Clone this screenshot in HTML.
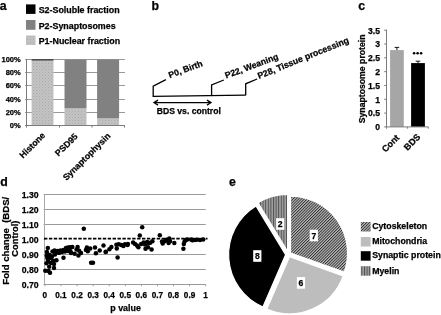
<!DOCTYPE html>
<html><head><meta charset="utf-8"><style>
html,body{margin:0;padding:0;background:#fff;width:441px;height:315px;overflow:hidden}
svg{display:block;filter:grayscale(1)}
text{font-family:"Liberation Sans",sans-serif;font-weight:bold;fill:#000;stroke:#000;stroke-width:0.25px}
</style></head><body>
<svg width="441" height="315" viewBox="0 0 441 315"><defs>
<pattern id="dots" width="3" height="3" patternUnits="userSpaceOnUse">
<rect width="3" height="3" fill="#c3c3c3"/><rect width="1" height="1" fill="#aaaaaa"/><rect x="1.5" y="1.5" width="1" height="1" fill="#b6b6b6"/></pattern>
<pattern id="hatch" width="2.02" height="2.02" patternUnits="userSpaceOnUse" patternTransform="rotate(45)">
<rect width="2.02" height="2.02" fill="#bcbcbc"/><rect width="0.9" height="2.02" fill="#2e2e2e"/></pattern>
<pattern id="vstripe" width="2.6" height="3" patternUnits="userSpaceOnUse">
<rect width="2.6" height="3" fill="#a0a0a0"/><rect width="1.0" height="3" fill="#505050"/></pattern>
</defs>
<text x="-0.2" y="9.8" font-size="12.3" text-anchor="start" >a</text>
<rect x="26" y="4.4" width="9.5" height="9.5" fill="#000"/>
<rect x="26" y="20" width="9.5" height="9.8" fill="#818181"/>
<rect x="26" y="35.5" width="9.5" height="9.5" fill="url(#dots)"/>
<text x="38.7" y="12.6" font-size="8.9" text-anchor="start" >S2-Soluble fraction</text>
<text x="38.7" y="28.6" font-size="8.9" text-anchor="start" >P2-Synaptosomes</text>
<text x="38.7" y="44.2" font-size="8.9" text-anchor="start" >P1-Nuclear fraction</text>
<line x1="25" y1="112.5" x2="125" y2="112.5" stroke="#9a9a9a" stroke-width="1" />
<line x1="25" y1="99.5" x2="125" y2="99.5" stroke="#9a9a9a" stroke-width="1" />
<line x1="25" y1="85.5" x2="125" y2="85.5" stroke="#9a9a9a" stroke-width="1" />
<line x1="25" y1="72.5" x2="125" y2="72.5" stroke="#9a9a9a" stroke-width="1" />
<line x1="25" y1="59.5" x2="125" y2="59.5" stroke="#9a9a9a" stroke-width="1" />
<text x="20.7" y="128.0" font-size="7.5" text-anchor="end" >0%</text>
<text x="20.7" y="115.0" font-size="7.5" text-anchor="end" >20%</text>
<text x="20.7" y="102.0" font-size="7.5" text-anchor="end" >40%</text>
<text x="20.7" y="88.0" font-size="7.5" text-anchor="end" >60%</text>
<text x="20.7" y="75.0" font-size="7.5" text-anchor="end" >80%</text>
<text x="20.7" y="62.0" font-size="7.5" text-anchor="end" >100%</text>
<rect x="31.6" y="60.4212" width="21.9" height="64.8788" fill="url(#dots)"/>
<rect x="31.6" y="59.5" width="21.9" height="0.9211999999999989" fill="#000"/>
<rect x="64.5" y="108.2578" width="22" height="17.042199999999994" fill="url(#dots)"/>
<rect x="64.5" y="59.5" width="22" height="48.7578" fill="#818181"/>
<rect x="97.1" y="118.39099999999999" width="22" height="6.909000000000006" fill="url(#dots)"/>
<rect x="97.1" y="59.5" width="22" height="58.89099999999999" fill="#818181"/>
<line x1="26.5" y1="59" x2="26.5" y2="125.5" stroke="#7c7c7c" stroke-width="1" />
<line x1="25" y1="125.5" x2="125" y2="125.5" stroke="#7c7c7c" stroke-width="1" />
<line x1="26.5" y1="125.5" x2="26.5" y2="127.6" stroke="#7c7c7c" stroke-width="1" />
<line x1="59.5" y1="125.5" x2="59.5" y2="127.6" stroke="#7c7c7c" stroke-width="1" />
<line x1="92" y1="125.5" x2="92" y2="127.6" stroke="#7c7c7c" stroke-width="1" />
<line x1="124.5" y1="125.5" x2="124.5" y2="127.6" stroke="#7c7c7c" stroke-width="1" />
<text x="0" y="0" font-size="8.8" text-anchor="end"  transform="translate(45.8,136) rotate(-45)">Histone</text>
<text x="0" y="0" font-size="8.8" text-anchor="end"  transform="translate(78.3,137) rotate(-45)">PSD95</text>
<text x="0" y="0" font-size="8.8" text-anchor="end"  transform="translate(111,136.5) rotate(-45)">Synaptophysin</text>
<text x="151.5" y="9.5" font-size="12.3" text-anchor="start" >b</text>
<g stroke="#000" stroke-width="1.3" fill="none">
<polyline points="165.9,79.6 153.2,86.2 153.2,96.3 245.7,95.2"/>
<polyline points="223.8,80 211.6,85 211.6,95.6"/>
<polyline points="257.1,79 245.7,83.8 245.7,95.2"/>
<line x1="155" y1="102.6" x2="210" y2="102.6"/>
<polyline points="158,100.1 154,102.6 158,105.1"/>
<polyline points="207,100.1 211,102.6 207,105.1"/>
</g>
<text x="156.8" y="113.5" font-size="8.6" text-anchor="start" >BDS vs. control</text>
<text x="0" y="0" font-size="8.7" text-anchor="start"  transform="translate(169.8,78.2) rotate(-20.3)">P0, Birth</text>
<text x="0" y="0" font-size="8.7" text-anchor="start"  transform="translate(226.2,78.6) rotate(-20.5)">P22, Weaning</text>
<text x="0" y="0" font-size="8.8" text-anchor="start"  transform="translate(258.9,79.1) rotate(-22)">P28, Tissue processing</text>
<text x="358.2" y="9.6" font-size="12.3" text-anchor="start" >c</text>
<line x1="386.5" y1="29.7" x2="386.5" y2="126.9" stroke="#7c7c7c" stroke-width="1" />
<line x1="384.2" y1="126.9" x2="386.5" y2="126.9" stroke="#7c7c7c" stroke-width="1" />
<text x="380" y="130.20000000000002" font-size="8.6" text-anchor="end" >0</text>
<line x1="384.2" y1="113.08571428571429" x2="386.5" y2="113.08571428571429" stroke="#7c7c7c" stroke-width="1" />
<text x="380" y="116.38571428571429" font-size="8.6" text-anchor="end" >0.5</text>
<line x1="384.2" y1="99.27142857142857" x2="386.5" y2="99.27142857142857" stroke="#7c7c7c" stroke-width="1" />
<text x="380" y="102.57142857142857" font-size="8.6" text-anchor="end" >1</text>
<line x1="384.2" y1="85.45714285714286" x2="386.5" y2="85.45714285714286" stroke="#7c7c7c" stroke-width="1" />
<text x="380" y="88.75714285714285" font-size="8.6" text-anchor="end" >1.5</text>
<line x1="384.2" y1="71.64285714285714" x2="386.5" y2="71.64285714285714" stroke="#7c7c7c" stroke-width="1" />
<text x="380" y="74.94285714285714" font-size="8.6" text-anchor="end" >2</text>
<line x1="384.2" y1="57.828571428571436" x2="386.5" y2="57.828571428571436" stroke="#7c7c7c" stroke-width="1" />
<text x="380" y="61.12857142857143" font-size="8.6" text-anchor="end" >2.5</text>
<line x1="384.2" y1="44.01428571428572" x2="386.5" y2="44.01428571428572" stroke="#7c7c7c" stroke-width="1" />
<text x="380" y="47.31428571428572" font-size="8.6" text-anchor="end" >3</text>
<line x1="384.2" y1="30.200000000000003" x2="386.5" y2="30.200000000000003" stroke="#7c7c7c" stroke-width="1" />
<text x="380" y="33.5" font-size="8.6" text-anchor="end" >3.5</text>
<rect x="390.1" y="50.092571428571446" width="13.7" height="76.80742857142856" fill="#a6a6a6"/>
<rect x="411.1" y="63.078" width="13.8" height="63.822" fill="#000"/>
<line x1="396.9" y1="47.4" x2="396.9" y2="50.092571428571446" stroke="#000" stroke-width="0.9" />
<line x1="394.6" y1="47.4" x2="399.2" y2="47.4" stroke="#000" stroke-width="0.9" />
<line x1="418" y1="61.2" x2="418" y2="63.078" stroke="#000" stroke-width="0.9" />
<line x1="415.7" y1="61.2" x2="420.3" y2="61.2" stroke="#000" stroke-width="0.9" />
<circle cx="414.1" cy="53.3" r="1.3" fill="#000"/>
<circle cx="417.6" cy="53.3" r="1.3" fill="#000"/>
<circle cx="421.1" cy="53.3" r="1.3" fill="#000"/>
<line x1="386.5" y1="126.9" x2="428.3" y2="126.9" stroke="#7c7c7c" stroke-width="1" />
<line x1="386.5" y1="126.9" x2="386.5" y2="128.70000000000002" stroke="#7c7c7c" stroke-width="1" />
<line x1="407.4" y1="126.9" x2="407.4" y2="128.70000000000002" stroke="#7c7c7c" stroke-width="1" />
<line x1="428.3" y1="126.9" x2="428.3" y2="128.70000000000002" stroke="#7c7c7c" stroke-width="1" />
<text x="0" y="0" font-size="9" text-anchor="end"  transform="translate(400,138.3) rotate(-45)">Cont</text>
<text x="0" y="0" font-size="9" text-anchor="end"  transform="translate(421,137.5) rotate(-45)">BDS</text>
<text x="0" y="0" font-size="8.7" text-anchor="middle"  transform="translate(365,78.9) rotate(-90)">Synaptosome protein</text>
<text x="0.2" y="185.7" font-size="12.3" text-anchor="start" >d</text>
<text x="38.6" y="287.79999999999995" font-size="8.7" text-anchor="end" >0.70</text>
<line x1="43.6" y1="269.5" x2="205.7" y2="269.5" stroke="#9a9a9a" stroke-width="1" />
<text x="38.6" y="272.79999999999995" font-size="8.7" text-anchor="end" >0.80</text>
<line x1="43.6" y1="254.5" x2="205.7" y2="254.5" stroke="#9a9a9a" stroke-width="1" />
<text x="38.6" y="257.8" font-size="8.7" text-anchor="end" >0.90</text>
<text x="38.6" y="242.79999999999998" font-size="8.7" text-anchor="end" >1.00</text>
<line x1="43.6" y1="224.5" x2="205.7" y2="224.5" stroke="#9a9a9a" stroke-width="1" />
<text x="38.6" y="227.79999999999998" font-size="8.7" text-anchor="end" >1.10</text>
<line x1="43.6" y1="209.5" x2="205.7" y2="209.5" stroke="#9a9a9a" stroke-width="1" />
<text x="38.6" y="212.79999999999998" font-size="8.7" text-anchor="end" >1.20</text>
<line x1="43.6" y1="194.5" x2="205.7" y2="194.5" stroke="#9a9a9a" stroke-width="1" />
<text x="38.6" y="197.79999999999998" font-size="8.7" text-anchor="end" >1.30</text>
<line x1="43.6" y1="239.39999999999998" x2="45.5" y2="239.39999999999998" stroke="#9a9a9a" stroke-width="1" />
<line x1="44.5" y1="194.4" x2="44.5" y2="284.9" stroke="#a8a8a8" stroke-width="1" />
<line x1="43.6" y1="284.5" x2="205.7" y2="284.5" stroke="#9a9a9a" stroke-width="1" />
<line x1="45.0" y1="284.4" x2="45.0" y2="286.2" stroke="#9a9a9a" stroke-width="1" />
<text x="44.9" y="297.8" font-size="8.2" text-anchor="middle" >0</text>
<line x1="61.07" y1="284.4" x2="61.07" y2="286.2" stroke="#9a9a9a" stroke-width="1" />
<text x="60.97" y="297.8" font-size="8.2" text-anchor="middle" >0.1</text>
<line x1="77.14" y1="284.4" x2="77.14" y2="286.2" stroke="#9a9a9a" stroke-width="1" />
<text x="77.04" y="297.8" font-size="8.2" text-anchor="middle" >0.2</text>
<line x1="93.21" y1="284.4" x2="93.21" y2="286.2" stroke="#9a9a9a" stroke-width="1" />
<text x="93.11" y="297.8" font-size="8.2" text-anchor="middle" >0.3</text>
<line x1="109.28" y1="284.4" x2="109.28" y2="286.2" stroke="#9a9a9a" stroke-width="1" />
<text x="109.18" y="297.8" font-size="8.2" text-anchor="middle" >0.4</text>
<line x1="125.35" y1="284.4" x2="125.35" y2="286.2" stroke="#9a9a9a" stroke-width="1" />
<text x="125.25" y="297.8" font-size="8.2" text-anchor="middle" >0.5</text>
<line x1="141.42" y1="284.4" x2="141.42" y2="286.2" stroke="#9a9a9a" stroke-width="1" />
<text x="141.32" y="297.8" font-size="8.2" text-anchor="middle" >0.6</text>
<line x1="157.48999999999998" y1="284.4" x2="157.48999999999998" y2="286.2" stroke="#9a9a9a" stroke-width="1" />
<text x="157.39" y="297.8" font-size="8.2" text-anchor="middle" >0.7</text>
<line x1="173.56" y1="284.4" x2="173.56" y2="286.2" stroke="#9a9a9a" stroke-width="1" />
<text x="173.46" y="297.8" font-size="8.2" text-anchor="middle" >0.8</text>
<line x1="189.63" y1="284.4" x2="189.63" y2="286.2" stroke="#9a9a9a" stroke-width="1" />
<text x="189.53" y="297.8" font-size="8.2" text-anchor="middle" >0.9</text>
<line x1="205.7" y1="284.4" x2="205.7" y2="286.2" stroke="#9a9a9a" stroke-width="1" />
<text x="205.6" y="297.8" font-size="8.2" text-anchor="middle" >1</text>
<line x1="44" y1="238.6" x2="207.5" y2="238.6" stroke="#000" stroke-width="1.7" stroke-dasharray="3.4,1.5"/>
<text x="125.6" y="310.7" font-size="8.9" text-anchor="middle" >p value</text>
<text x="0" y="0" font-size="9.6" text-anchor="middle" xml:space="preserve" transform="translate(8.5,240.7) rotate(-90)">Fold change  (BDS/</text>
<text x="0" y="0" font-size="9.3" text-anchor="middle"  transform="translate(17.8,238.6) rotate(-90)">Control)</text>
<circle cx="83.8" cy="228.8" r="2.25" fill="#000"/>
<circle cx="47.8" cy="248" r="2.25" fill="#000"/>
<circle cx="46.9" cy="252" r="2.25" fill="#000"/>
<circle cx="47.3" cy="258" r="2.25" fill="#000"/>
<circle cx="50.8" cy="258" r="2.25" fill="#000"/>
<circle cx="56.4" cy="260.2" r="2.25" fill="#000"/>
<circle cx="46.5" cy="263.2" r="2.25" fill="#000"/>
<circle cx="54" cy="264" r="2.25" fill="#000"/>
<circle cx="54" cy="268" r="2.25" fill="#000"/>
<circle cx="49.2" cy="266.8" r="2.25" fill="#000"/>
<circle cx="45.3" cy="270.8" r="2.25" fill="#000"/>
<circle cx="48.4" cy="271.1" r="2.25" fill="#000"/>
<circle cx="50" cy="272.7" r="2.25" fill="#000"/>
<circle cx="53.2" cy="260.8" r="2.25" fill="#000"/>
<circle cx="63.5" cy="257.7" r="2.25" fill="#000"/>
<circle cx="46.8" cy="255.5" r="2.25" fill="#000"/>
<circle cx="49.5" cy="255" r="2.25" fill="#000"/>
<circle cx="52" cy="256.5" r="2.25" fill="#000"/>
<circle cx="48" cy="261" r="2.25" fill="#000"/>
<circle cx="51" cy="263" r="2.25" fill="#000"/>
<circle cx="52.5" cy="251.5" r="2.25" fill="#000"/>
<circle cx="54.5" cy="250.5" r="2.25" fill="#000"/>
<circle cx="55" cy="254.5" r="2.25" fill="#000"/>
<circle cx="59" cy="252.8" r="2.25" fill="#000"/>
<circle cx="68" cy="247.5" r="2.25" fill="#000"/>
<circle cx="70" cy="247.2" r="2.25" fill="#000"/>
<circle cx="66" cy="248" r="2.25" fill="#000"/>
<circle cx="55.5" cy="252.5" r="2.25" fill="#000"/>
<circle cx="57.5" cy="251" r="2.25" fill="#000"/>
<circle cx="59" cy="252.5" r="2.25" fill="#000"/>
<circle cx="60.5" cy="250.5" r="2.25" fill="#000"/>
<circle cx="62" cy="252" r="2.25" fill="#000"/>
<circle cx="63.5" cy="250" r="2.25" fill="#000"/>
<circle cx="65" cy="251.5" r="2.25" fill="#000"/>
<circle cx="66.5" cy="249.5" r="2.25" fill="#000"/>
<circle cx="68" cy="251" r="2.25" fill="#000"/>
<circle cx="69.5" cy="249.5" r="2.25" fill="#000"/>
<circle cx="70.5" cy="251.5" r="2.25" fill="#000"/>
<circle cx="72.3" cy="247" r="2.25" fill="#000"/>
<circle cx="71" cy="253" r="2.25" fill="#000"/>
<circle cx="77.6" cy="247" r="2.25" fill="#000"/>
<circle cx="79.1" cy="250.8" r="2.25" fill="#000"/>
<circle cx="81" cy="253" r="2.25" fill="#000"/>
<circle cx="74.6" cy="253.8" r="2.25" fill="#000"/>
<circle cx="78.4" cy="255.6" r="2.25" fill="#000"/>
<circle cx="76.5" cy="249.5" r="2.25" fill="#000"/>
<circle cx="85.9" cy="249.9" r="2.25" fill="#000"/>
<circle cx="86.9" cy="247.5" r="2.25" fill="#000"/>
<circle cx="87.8" cy="251.3" r="2.25" fill="#000"/>
<circle cx="90.2" cy="248.5" r="2.25" fill="#000"/>
<circle cx="95" cy="247.5" r="2.25" fill="#000"/>
<circle cx="95.9" cy="253.2" r="2.25" fill="#000"/>
<circle cx="99.7" cy="250.4" r="2.25" fill="#000"/>
<circle cx="103.5" cy="245.6" r="2.25" fill="#000"/>
<circle cx="105.9" cy="251.8" r="2.25" fill="#000"/>
<circle cx="91.1" cy="262.8" r="2.25" fill="#000"/>
<circle cx="93" cy="262.8" r="2.25" fill="#000"/>
<circle cx="105.6" cy="252.1" r="2.25" fill="#000"/>
<circle cx="109.4" cy="249.2" r="2.25" fill="#000"/>
<circle cx="111.4" cy="247.1" r="2.25" fill="#000"/>
<circle cx="116.4" cy="244.7" r="2.25" fill="#000"/>
<circle cx="116.8" cy="248.4" r="2.25" fill="#000"/>
<circle cx="118.8" cy="244.2" r="2.25" fill="#000"/>
<circle cx="121.3" cy="245.1" r="2.25" fill="#000"/>
<circle cx="123.4" cy="245.9" r="2.25" fill="#000"/>
<circle cx="125" cy="244.2" r="2.25" fill="#000"/>
<circle cx="127.5" cy="245.1" r="2.25" fill="#000"/>
<circle cx="117.6" cy="257.4" r="2.25" fill="#000"/>
<circle cx="142.2" cy="227.3" r="2.25" fill="#000"/>
<circle cx="139.8" cy="235.4" r="2.25" fill="#000"/>
<circle cx="127.9" cy="244" r="2.25" fill="#000"/>
<circle cx="133.1" cy="242.6" r="2.25" fill="#000"/>
<circle cx="135" cy="244" r="2.25" fill="#000"/>
<circle cx="137" cy="245.4" r="2.25" fill="#000"/>
<circle cx="138.4" cy="247.3" r="2.25" fill="#000"/>
<circle cx="141.2" cy="244" r="2.25" fill="#000"/>
<circle cx="143.6" cy="242.6" r="2.25" fill="#000"/>
<circle cx="145" cy="244.5" r="2.25" fill="#000"/>
<circle cx="145.5" cy="248.8" r="2.25" fill="#000"/>
<circle cx="148.4" cy="243" r="2.25" fill="#000"/>
<circle cx="147.2" cy="242" r="2.25" fill="#000"/>
<circle cx="150.2" cy="242.7" r="2.25" fill="#000"/>
<circle cx="152.4" cy="241.3" r="2.25" fill="#000"/>
<circle cx="151.6" cy="249.4" r="2.25" fill="#000"/>
<circle cx="148" cy="247.2" r="2.25" fill="#000"/>
<circle cx="159.8" cy="235.2" r="2.25" fill="#000"/>
<circle cx="162" cy="241.5" r="2.25" fill="#000"/>
<circle cx="162.7" cy="243.6" r="2.25" fill="#000"/>
<circle cx="164.8" cy="241.2" r="2.25" fill="#000"/>
<circle cx="166.5" cy="239.8" r="2.25" fill="#000"/>
<circle cx="168.6" cy="242.9" r="2.25" fill="#000"/>
<circle cx="169.3" cy="238.4" r="2.25" fill="#000"/>
<circle cx="170" cy="241.2" r="2.25" fill="#000"/>
<circle cx="174.3" cy="243" r="2.25" fill="#000"/>
<circle cx="183.4" cy="248.7" r="2.25" fill="#000"/>
<circle cx="183.8" cy="244.1" r="2.25" fill="#000"/>
<circle cx="184.6" cy="241.4" r="2.25" fill="#000"/>
<circle cx="185.7" cy="239.9" r="2.25" fill="#000"/>
<circle cx="187.2" cy="239.5" r="2.25" fill="#000"/>
<circle cx="191" cy="239.5" r="2.25" fill="#000"/>
<circle cx="192.6" cy="239.9" r="2.25" fill="#000"/>
<circle cx="194.9" cy="239.9" r="2.25" fill="#000"/>
<circle cx="196.7" cy="239.8" r="2.25" fill="#000"/>
<circle cx="200" cy="240" r="2.25" fill="#000"/>
<circle cx="203.2" cy="239.6" r="2.25" fill="#000"/>
<circle cx="192.3" cy="240.2" r="2.25" fill="#000"/>
<text x="229" y="185.9" font-size="12.3" text-anchor="start" >e</text>
<path d="M290.54,253.06 L290.54,196.06 A57,57 0 0 1 344.25,272.15 Z" fill="url(#hatch)" stroke="#fff" stroke-width="1.2"/>
<path d="M289.50,256.79 L343.20,275.88 A57,57 0 0 1 266.79,309.07 Z" fill="#bdbdbd" stroke="#fff" stroke-width="1.2"/>
<path d="M285.61,254.70 L262.90,306.98 A57,57 0 0 1 255.99,206.00 Z" fill="#000" stroke="#fff" stroke-width="1.2"/>
<path d="M287.66,251.51 L258.05,202.81 A57,57 0 0 1 287.66,194.51 Z" fill="url(#vstripe)" stroke="#fff" stroke-width="1.2"/>
<rect x="276.09999999999997" y="218.2" width="8.2" height="11.6" fill="#fff"/>
<text x="280.2" y="227" font-size="8.6" text-anchor="middle" >2</text>
<rect x="309.7" y="229.7" width="8.2" height="11.6" fill="#fff"/>
<text x="313.8" y="238.5" font-size="8.6" text-anchor="middle" >7</text>
<rect x="253.20000000000002" y="250.2" width="8.2" height="11.6" fill="#fff"/>
<text x="257.3" y="259" font-size="8.6" text-anchor="middle" >8</text>
<rect x="296.9" y="277.09999999999997" width="8.2" height="11.6" fill="#fff"/>
<text x="301" y="285.9" font-size="8.6" text-anchor="middle" >6</text>
<rect x="360.8" y="222" width="9.8" height="9.5" fill="url(#hatch)"/>
<text x="372.2" y="229.0" font-size="8.75" text-anchor="start" >Cytoskeleton</text>
<rect x="360.8" y="237" width="9.8" height="9.5" fill="#bdbdbd"/>
<text x="372.2" y="244.2" font-size="8.75" text-anchor="start" >Mitochondria</text>
<rect x="360.8" y="251.2" width="9.8" height="9.5" fill="#000"/>
<text x="372.2" y="258.2" font-size="8.75" text-anchor="start" >Synaptic protein</text>
<rect x="360.8" y="266.2" width="9.8" height="9.5" fill="url(#vstripe)"/>
<text x="372.2" y="274.0" font-size="8.75" text-anchor="start" >Myelin</text></svg>
</body></html>
